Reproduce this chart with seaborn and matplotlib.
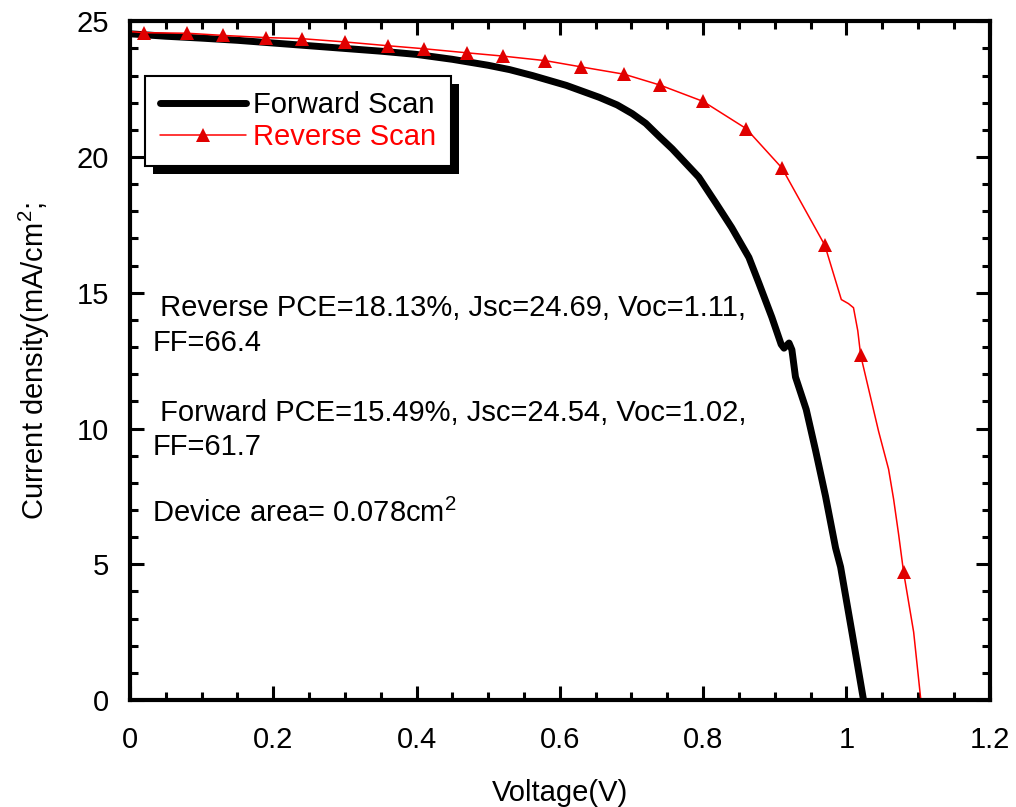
import matplotlib
matplotlib.use("Agg")
import matplotlib.pyplot as plt
import matplotlib.transforms as mtransforms
from matplotlib.patches import Rectangle
from matplotlib.ticker import MultipleLocator
import seaborn as sns
import pandas as pd

# ---------------- data ----------------
forward_v = [0.0, 0.05, 0.10, 0.15, 0.20, 0.25, 0.30, 0.35, 0.40, 0.45, 0.50, 0.53,
             0.562, 0.609, 0.655, 0.680, 0.701, 0.720, 0.739, 0.757, 0.794, 0.818, 0.840, 0.864,
             0.878, 0.896, 0.909, 0.913, 0.920, 0.924, 0.929, 0.944, 0.957, 0.971,
             0.985, 0.992, 1.008, 1.024]
forward_j = [24.54, 24.45, 24.38, 24.30, 24.20, 24.10, 24.00, 23.90, 23.78, 23.60, 23.38, 23.22,
             23.00, 22.64, 22.20, 21.92, 21.60, 21.24, 20.75, 20.30, 19.26, 18.30, 17.40, 16.30,
             15.35, 14.10, 13.10, 12.96, 13.15, 12.90, 11.90, 10.70, 9.20, 7.50,
             5.60, 4.90, 2.47, 0.0]

reverse_v = [0.0, 0.02, 0.08, 0.13, 0.19, 0.24, 0.30, 0.36, 0.41, 0.47, 0.52, 0.58,
             0.63, 0.69, 0.74, 0.80, 0.86, 0.91, 0.97, 0.993, 1.003, 1.010, 1.016,
             1.02, 1.045, 1.059, 1.066, 1.073, 1.08, 1.094, 1.104]
reverse_j = [24.62, 24.58, 24.56, 24.48, 24.40, 24.36, 24.24, 24.10, 23.99, 23.84, 23.72, 23.55,
             23.32, 23.05, 22.65, 22.05, 21.05, 19.60, 16.75, 14.75, 14.60, 14.45, 13.60,
             12.70, 9.90, 8.50, 7.40, 6.10, 4.70, 2.50, 0.0]
reverse_marker_idx = [1, 2, 3, 4, 5, 6, 7, 8, 9, 10, 11, 12, 13, 14, 15, 16, 17, 18, 23, 28]

series_labels = ["Forward Scan", "Reverse Scan"]
x_ticks = [0, 0.2, 0.4, 0.6, 0.8, 1.0, 1.2]
x_tick_labels = ["0", "0.2", "0.4", "0.6", "0.8", "1", "1.2"]
y_ticks = [0, 5, 10, 15, 20, 25]
annotations = [
    " Reverse PCE=18.13%, Jsc=24.69, Voc=1.11,",
    "FF=66.4",
    " Forward PCE=15.49%, Jsc=24.54, Voc=1.02,",
    "FF=61.7",
    "Device area= 0.078cm$^2$",
]

# ---------------- style ----------------
sns.set_theme(style="ticks")
plt.rcParams["font.family"] = ["Liberation Sans", "DejaVu Sans"]
plt.rcParams["mathtext.fontset"] = "custom"
plt.rcParams["mathtext.rm"] = "Liberation Sans"
plt.rcParams["mathtext.it"] = "Liberation Sans"
plt.rcParams["mathtext.bf"] = "Liberation Sans"

FS = 21
fig = plt.figure(figsize=(10.16, 8.07), dpi=100)
ax = fig.add_axes([0.128, 0.1326, 0.846, 0.841])

df_f = pd.DataFrame({"V": forward_v, "J": forward_j})
df_r = pd.DataFrame({"V": reverse_v, "J": reverse_j})

sns.lineplot(data=df_f, x="V", y="J", ax=ax, color="black", lw=5.0,
             estimator=None, sort=False, label=series_labels[0])
sns.lineplot(data=df_r, x="V", y="J", ax=ax, color="#ff0000", lw=1.1,
             marker="^", markersize=10, markeredgewidth=0, markerfacecolor="#e00000",
             markevery=reverse_marker_idx,
             estimator=None, sort=False, label=series_labels[1])

ax.set_xlim(0, 1.2)
ax.set_ylim(0, 25)
ax.set_xticks(x_ticks)
ax.set_xticklabels(x_tick_labels)
ax.set_yticks(y_ticks)
ax.xaxis.set_minor_locator(MultipleLocator(0.05))
ax.yaxis.set_minor_locator(MultipleLocator(1))

for s in ax.spines.values():
    s.set_visible(True)
    s.set_linewidth(3)
    s.set_color("black")

ax.tick_params(which="both", direction="in", top=True, right=True, colors="black",
               labelsize=FS, width=2.2)
ax.tick_params(which="major", length=10)
ax.tick_params(which="minor", length=5.5)
ax.tick_params(axis="y", which="major", pad=15)
ax.tick_params(axis="x", which="major", pad=19)

ax.set_xlabel("Voltage(V)", fontsize=FS, color="black", labelpad=18)
ax.set_ylabel("Current density(mA/cm$^2$;", fontsize=FS, color="black", labelpad=18)

text_y = [14.43, 13.14, 10.57, 9.32, 6.89]
for t, yy in zip(annotations, text_y):
    ax.text(0.031, yy, t, fontsize=FS, color="black", va="center", ha="left")

leg = ax.legend(loc="upper left", bbox_to_anchor=(0.0174, 0.919), borderaxespad=0,
                fontsize=FS, frameon=True, fancybox=False, handlelength=2.95,
                handletextpad=0.25, labelspacing=0.15, borderpad=0.5)
leg.get_frame().set_edgecolor("black")
leg.get_frame().set_linewidth(1.5)
leg.get_frame().set_alpha(1)
leg.set_zorder(10)
for txt, c in zip(leg.get_texts(), ["black", "#ff0000"]):
    txt.set_color(c)

fig.canvas.draw()
bb = leg.get_frame().get_window_extent(fig.canvas.get_renderer())
shadow = Rectangle((bb.x0 + 8, bb.y0 - 8), bb.width, bb.height,
                   transform=mtransforms.IdentityTransform(), facecolor="black",
                   edgecolor="none", zorder=9.5, clip_on=False)
ax.add_artist(shadow)

fig.savefig("out.png", dpi=100, facecolor="white")
